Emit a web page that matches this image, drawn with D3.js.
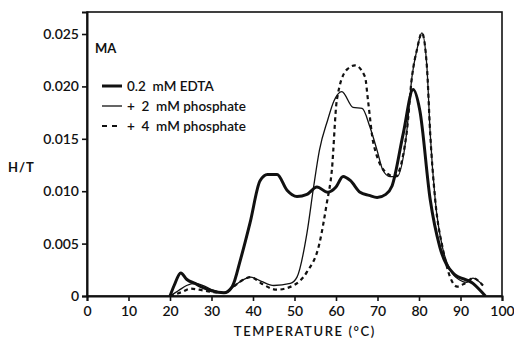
<!DOCTYPE html>
<html>
<head>
<meta charset="utf-8">
<script src="https://cdn.jsdelivr.net/npm/d3@7"></script>
<style>
  body { margin: 0; background: #fff; }
  text { font-family: Lato, "DejaVu Sans", sans-serif; fill: #111; }
</style>
</head>
<body>
<div id="chart"></div>
<script>
// data: [temperature, H/T]
const edta = [
  [20, 0], [21, 0.001], [22.6, 0.0022], [24, 0.0016], [26, 0.0012], [28, 0.0008],
  [30, 0.0005], [33, 0.0003], [35, 0.0009], [37, 0.0035], [39.3, 0.007], [41.7, 0.011],
  [43.5, 0.0116], [45.8, 0.0116], [48.2, 0.0101], [50.6, 0.0095], [53, 0.0097],
  [55.4, 0.0104], [58, 0.0099], [60, 0.0104], [61.7, 0.0114], [63.5, 0.011],
  [65.8, 0.0099], [68, 0.0096], [69.9, 0.0094], [72, 0.0097], [73.5, 0.0105],
  [76.2, 0.0155], [78.6, 0.0197], [80.2, 0.0177], [82.7, 0.0092], [85, 0.0047],
  [88.2, 0.0022], [93, 0.0012], [96, 0]
];
const phos2 = [
  [20, 0], [22, 0.0005], [24, 0.001], [26, 0.0012], [28, 0.001], [30, 0.0006],
  [33, 0.0003], [35, 0.0008], [37, 0.0014], [39.5, 0.0018], [42, 0.0014], [45, 0.001],
  [49, 0.0012], [50.6, 0.0018], [53, 0.006], [54.6, 0.0104], [56, 0.0139],
  [58, 0.0168], [59.5, 0.0186], [61.4, 0.0195], [64.1, 0.018], [66.3, 0.0179],
  [68.2, 0.0161], [69.9, 0.0139], [71.3, 0.012], [73, 0.0114], [74.7, 0.0114],
  [77, 0.0155], [78.3, 0.0209], [79.5, 0.0235], [80.7, 0.0251], [81.9, 0.0219],
  [82.7, 0.0155], [83.9, 0.0092], [85.8, 0.0044], [87.5, 0.0025], [89.9, 0.0015],
  [91.5, 0.0013], [93, 0.0017], [95.4, 0.001]
];
const phos4 = [
  [20, 0], [23, 0.0004], [25, 0.0007], [27, 0.0006], [30, 0.0004], [33, 0.0003],
  [35, 0.0008], [37, 0.0014], [39.5, 0.0018], [42, 0.0012], [45.7, 0.0006],
  [49.7, 0.001], [53, 0.0023], [56, 0.005], [57.8, 0.0089], [59, 0.012],
  [60.2, 0.0187], [62.6, 0.0216], [64.6, 0.022], [67, 0.0209], [67.7, 0.0187],
  [69, 0.0146], [72.3, 0.0117], [74.2, 0.0114], [77, 0.0155], [78.3, 0.0209],
  [79.5, 0.0235], [80.7, 0.0251], [81.9, 0.0219], [82.7, 0.0155], [83.9, 0.0092],
  [85.8, 0.0044], [87.5, 0.0018], [89.2, 0.0009], [91, 0.0012], [93, 0.0017],
  [95.4, 0.001]
];
const xTicks = [0, 10, 20, 30, 40, 50, 60, 70, 80, 90, 100];
const yTicks = [0, 0.005, 0.01, 0.015, 0.02, 0.025];
const yTickLabels = ['0', '0.005', '0.010', '0.015', '0.020', '0.025'];
const seriesNames = ['0.2  mM EDTA', '+  2  mM phosphate', '+  4  mM phosphate'];

const W = 514, H = 339;
const margin = {top: 12, right: 12, bottom: 43, left: 87};
const width = W - margin.left - margin.right,
      height = H - margin.top - margin.bottom;

const svg = d3.select('#chart').append('svg')
  .attr('width', W).attr('height', H)
  .append('g')
  .attr('transform', `translate(${margin.left},${margin.top})`);

const x = d3.scaleLinear().domain([0, 100]).range([0, width]);
const y = d3.scaleLinear().domain([0, 0.0271]).range([height, 0]);

// frame
svg.append('rect')
  .attr('width', width).attr('height', height)
  .attr('fill', 'none').attr('stroke', '#111').attr('stroke-width', 1.6);

const xAxis = svg.append('g')
  .attr('transform', `translate(0,${height})`)
  .call(d3.axisBottom(x).tickValues(xTicks).tickSize(5).tickPadding(5).tickFormat(d3.format('d')));
const yAxis = svg.append('g')
  .call(d3.axisLeft(y).tickValues(yTicks).tickSize(5).tickPadding(3)
    .tickFormat((d, i) => yTickLabels[i]));

[xAxis, yAxis].forEach(a => {
  a.select('.domain').attr('stroke', '#111').attr('stroke-width', 2);
  a.selectAll('.tick line').attr('stroke', '#111').attr('stroke-width', 1.6);
  a.selectAll('.tick text').style('font-size', '14px').style('font-weight', 600)
    .style('font-family', 'Lato, sans-serif').attr('fill', '#111');
});

// axis titles
svg.append('text')
  .attr('x', x(52.5)).attr('y', height + 40)
  .attr('text-anchor', 'middle')
  .style('font-size', '13px').style('font-weight', 600).style('letter-spacing', '1.6px')
  .text('TEMPERATURE (°C)');
svg.append('text')
  .attr('x', -79).attr('y', 160)
  .style('font-size', '13px').style('font-weight', 700).style('letter-spacing', '1px')
  .text('H/T');

const line = d3.line()
  .x(d => x(d[0]))
  .y(d => y(d[1]))
  .curve(d3.curveMonotoneX);

const styles = [
  {w: 3, dash: null},
  {w: 1.3, dash: null},
  {w: 2.2, dash: '4,3.5'}
];

[edta, phos2, phos4].forEach((s, i) => {
  svg.append('path')
    .attr('d', line(s))
    .attr('fill', 'none')
    .attr('stroke', '#111')
    .attr('stroke-width', styles[i].w)
    .attr('stroke-linejoin', 'round')
    .attr('stroke-dasharray', styles[i].dash);
});

// legend
svg.append('text')
  .attr('x', 8).attr('y', 41)
  .style('font-size', '13px').style('font-weight', 700)
  .text('MA');

const legend = svg.append('g').selectAll('g')
  .data(seriesNames)
  .enter()
  .append('g')
  .attr('transform', (d, i) => `translate(15,${74 + i * 20})`);

legend.append('line')
  .attr('x1', 0).attr('x2', 20)
  .attr('stroke', '#111')
  .attr('stroke-width', (d, i) => styles[i].w)
  .attr('stroke-dasharray', (d, i) => styles[i].dash ? '5,5' : null);

legend.append('text')
  .attr('x', 25).attr('y', 5)
  .style('font-size', '13.5px').style('font-weight', 600)
  .style('white-space', 'pre')
  .text(d => d);
</script>
</body>
</html>
